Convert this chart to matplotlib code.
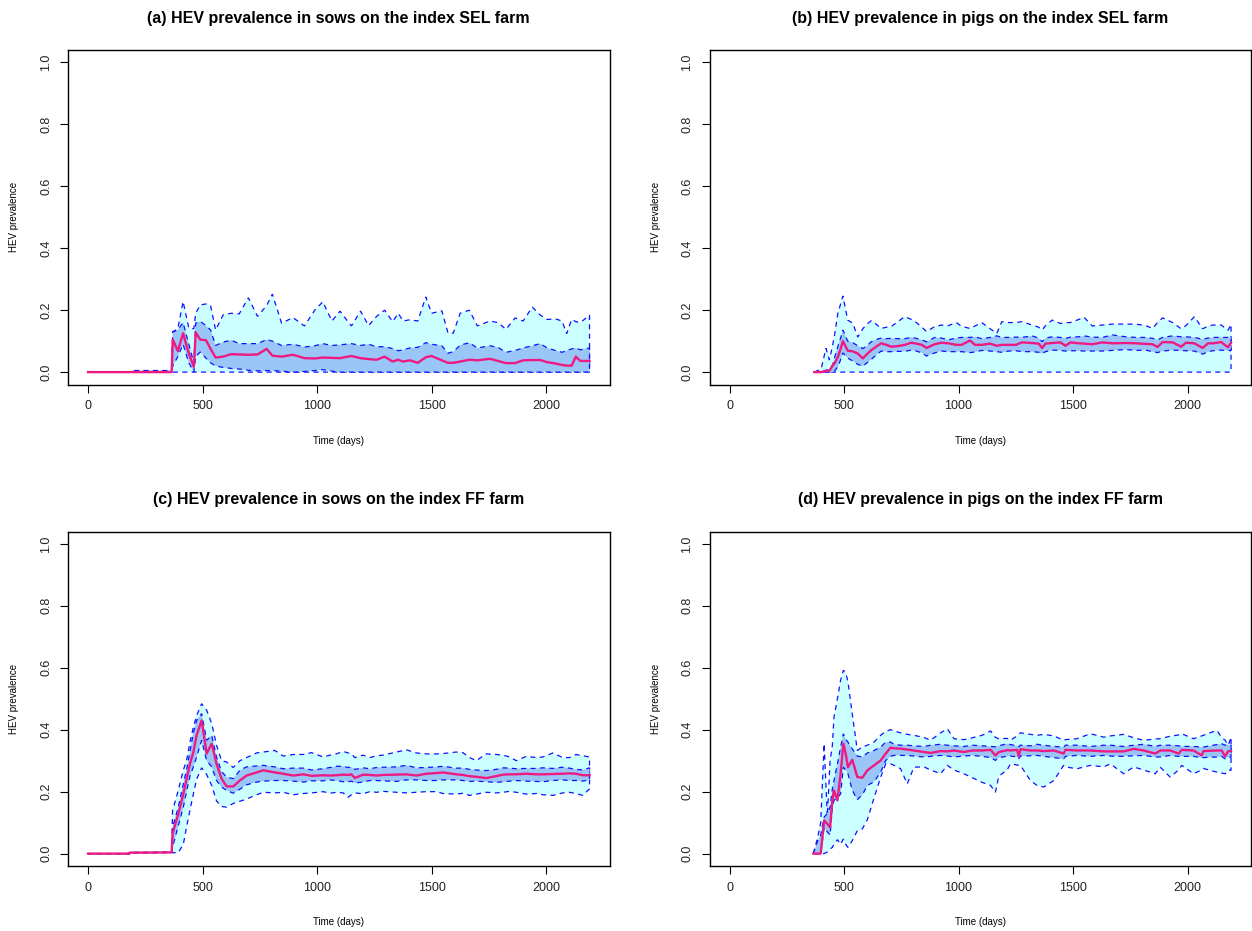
import matplotlib
matplotlib.use("Agg")
import matplotlib.pyplot as plt

plt.rcParams['font.family'] = ['Liberation Sans', 'DejaVu Sans']

# ---- simulated HEV prevalence: 2.5%, 25%, 50%, 75%, 97.5% quantiles ----
# (a) sows, SEL farm
a_days = [0, 185, 190, 365,
          370, 392, 415, 440, 462, 470, 490, 515, 535, 557,
          590, 625, 660, 700, 740, 780, 805, 845, 895, 945,
          990, 1025, 1065, 1100, 1150, 1190, 1225, 1260, 1295, 1330,
          1355, 1375, 1405, 1440, 1475, 1500, 1545, 1572, 1595, 1625,
          1665, 1700, 1755, 1790, 1825, 1865, 1900, 1940, 1975, 2005,
          2040, 2070, 2090, 2112, 2130, 2150, 2190]
a_med = [0, 0, 0, 0,
         0.105, 0.068, 0.125, 0.06, 0.017, 0.128, 0.105, 0.103, 0.075, 0.047,
         0.05, 0.058, 0.057, 0.056, 0.057, 0.075, 0.053, 0.05, 0.056, 0.045,
         0.044, 0.047, 0.046, 0.045, 0.052, 0.045, 0.042, 0.04, 0.05, 0.034,
         0.04, 0.034, 0.038, 0.03, 0.048, 0.052, 0.038, 0.03, 0.03, 0.034,
         0.04, 0.038, 0.043, 0.036, 0.029, 0.029, 0.038, 0.039, 0.039, 0.032,
         0.028, 0.023, 0.021, 0.021, 0.05, 0.036, 0.036]
a_q75 = [0, 0, 0.005, 0.005,
         0.13, 0.136, 0.16, 0.09, 0.03, 0.158, 0.164, 0.15, 0.136, 0.086,
         0.097, 0.103, 0.092, 0.092, 0.092, 0.105, 0.1, 0.086, 0.09, 0.081,
         0.085, 0.092, 0.086, 0.088, 0.092, 0.086, 0.09, 0.082, 0.082, 0.076,
         0.069, 0.072, 0.078, 0.08, 0.095, 0.09, 0.085, 0.061, 0.066, 0.087,
         0.095, 0.078, 0.085, 0.08, 0.064, 0.07, 0.078, 0.085, 0.092, 0.078,
         0.07, 0.064, 0.07, 0.075, 0.078, 0.072, 0.078]
a_q25 = [0, 0, 0, 0,
         0.02, 0.05, 0.09, 0.03, 0.0, 0.05, 0.065, 0.045, 0.03, 0.02,
         0.015, 0.012, 0.01, 0.006, 0.004, 0.005, 0.005, 0.003, 0.0, 0.002,
         0.005, 0.008, 0.003, 0, 0, 0, 0, 0, 0, 0,
         0, 0, 0, 0, 0, 0, 0, 0, 0, 0,
         0, 0, 0, 0, 0, 0, 0, 0, 0, 0,
         0, 0, 0, 0, 0, 0, 0]
a_hi = [0, 0, 0.005, 0.005,
        0.13, 0.14, 0.228, 0.142, 0.14, 0.19, 0.217, 0.22, 0.215, 0.136,
        0.185, 0.19, 0.188, 0.24, 0.18, 0.215, 0.252, 0.158, 0.176, 0.149,
        0.2, 0.227, 0.165, 0.197, 0.149, 0.197, 0.15, 0.18, 0.2, 0.163,
        0.19, 0.165, 0.169, 0.165, 0.243, 0.19, 0.198, 0.126, 0.126, 0.19,
        0.2, 0.149, 0.165, 0.16, 0.138, 0.175, 0.165, 0.21, 0.184, 0.17,
        0.172, 0.165, 0.124, 0.17, 0.163, 0.16, 0.184]
a_lo = [0, 0, 0, 0,
        0, 0, 0, 0, 0, 0, 0, 0, 0, 0,
        0, 0, 0, 0, 0, 0, 0, 0, 0, 0,
        0, 0, 0, 0, 0, 0, 0, 0, 0, 0,
        0, 0, 0, 0, 0, 0, 0, 0, 0, 0,
        0, 0, 0, 0, 0, 0, 0, 0, 0, 0,
        0, 0, 0, 0, 0, 0, 0]

# (b) pigs, SEL farm
b_days = [370, 400, 421, 436, 451, 460, 473, 485, 495, 516,
          538, 560, 582, 600, 619, 640, 662, 685, 706, 735,
          765, 794, 816, 840, 860, 896, 925, 955, 990, 1013,
          1050, 1072, 1101, 1138, 1167, 1189, 1220, 1250, 1277, 1321,
          1350, 1365, 1380, 1409, 1445, 1467, 1489, 1525, 1548, 1584,
          1628, 1672, 1730, 1774, 1818, 1847, 1869, 1891, 1935, 1972,
          1993, 2030, 2066, 2089, 2111, 2147, 2177, 2190]
b_med = [0.0, 0.0, 0.004, 0.004, 0.022, 0.03, 0.049, 0.075, 0.1, 0.069,
         0.067, 0.06, 0.044, 0.058, 0.071, 0.082, 0.093, 0.088, 0.082, 0.084,
         0.088, 0.095, 0.092, 0.088, 0.078, 0.09, 0.095, 0.093, 0.088, 0.088,
         0.102, 0.088, 0.088, 0.092, 0.085, 0.088, 0.088, 0.088, 0.096, 0.094,
         0.092, 0.078, 0.092, 0.094, 0.096, 0.085, 0.096, 0.093, 0.092, 0.09,
         0.096, 0.093, 0.094, 0.093, 0.091, 0.09, 0.081, 0.097, 0.096, 0.082,
         0.095, 0.093, 0.078, 0.093, 0.093, 0.097, 0.08, 0.095]
b_q75 = [0.0, 0.003, 0.006, 0.008, 0.025, 0.05, 0.083, 0.11, 0.136, 0.1,
         0.095, 0.085, 0.076, 0.085, 0.098, 0.105, 0.11, 0.108, 0.109, 0.108,
         0.108, 0.112, 0.109, 0.104, 0.098, 0.112, 0.11, 0.104, 0.11, 0.112,
         0.112, 0.114, 0.108, 0.112, 0.117, 0.112, 0.112, 0.113, 0.112, 0.117,
         0.11, 0.098, 0.11, 0.114, 0.112, 0.109, 0.113, 0.114, 0.117, 0.113,
         0.112, 0.12, 0.114, 0.112, 0.112, 0.109, 0.104, 0.112, 0.117, 0.114,
         0.114, 0.112, 0.106, 0.11, 0.112, 0.112, 0.112, 0.112]
b_q25 = [0.0, 0.0, 0.0, 0.0, 0.0, 0.005, 0.017, 0.04, 0.062, 0.045,
         0.036, 0.025, 0.019, 0.03, 0.041, 0.055, 0.068, 0.066, 0.066, 0.067,
         0.067, 0.071, 0.068, 0.062, 0.052, 0.062, 0.068, 0.066, 0.066, 0.066,
         0.063, 0.065, 0.07, 0.068, 0.066, 0.064, 0.068, 0.069, 0.066, 0.066,
         0.064, 0.06, 0.066, 0.071, 0.07, 0.068, 0.069, 0.069, 0.068, 0.068,
         0.068, 0.07, 0.073, 0.07, 0.071, 0.066, 0.063, 0.068, 0.071, 0.07,
         0.069, 0.068, 0.058, 0.066, 0.069, 0.071, 0.07, 0.069]
b_hi = [0.0, 0.01, 0.077, 0.039, 0.09, 0.126, 0.19, 0.22, 0.246, 0.168,
        0.158, 0.113, 0.14, 0.155, 0.166, 0.155, 0.141, 0.145, 0.147, 0.163,
        0.179, 0.17, 0.16, 0.145, 0.131, 0.147, 0.152, 0.15, 0.16, 0.148,
        0.141, 0.149, 0.16, 0.14, 0.125, 0.163, 0.16, 0.16, 0.163, 0.152,
        0.145, 0.136, 0.15, 0.168, 0.157, 0.16, 0.16, 0.17, 0.177, 0.149,
        0.152, 0.155, 0.155, 0.155, 0.15, 0.141, 0.16, 0.175, 0.16, 0.14,
        0.15, 0.179, 0.14, 0.148, 0.152, 0.152, 0.135, 0.154]
b_lo = [0, 0, 0, 0, 0, 0, 0, 0, 0, 0,
        0, 0, 0, 0, 0, 0, 0, 0, 0, 0,
        0, 0, 0, 0, 0, 0, 0, 0, 0, 0,
        0, 0, 0, 0, 0, 0, 0, 0, 0, 0,
        0, 0, 0, 0, 0, 0, 0, 0, 0, 0,
        0, 0, 0, 0, 0, 0, 0, 0, 0, 0,
        0, 0, 0, 0, 0, 0, 0, 0]

# (c) sows, FF farm
c_days = [0, 180, 182, 365, 369, 394, 416, 430, 445, 460,
          474, 496, 518, 540, 561, 583, 605, 634, 663, 692,
          736, 765, 816, 852, 896, 940, 976, 1027, 1056, 1085,
          1114, 1136, 1150, 1165, 1201, 1230, 1260, 1289, 1347, 1390,
          1434, 1477, 1521, 1550, 1608, 1637, 1666, 1695, 1739, 1782,
          1812, 1841, 1870, 1914, 1957, 1986, 2030, 2073, 2102, 2131,
          2160, 2190]
c_med = [0, 0, 0.003, 0.004, 0.064, 0.128, 0.193, 0.24, 0.29, 0.328,
         0.382, 0.43, 0.323, 0.355, 0.29, 0.242, 0.217, 0.217, 0.236, 0.252,
         0.262, 0.269, 0.262, 0.258, 0.252, 0.256, 0.251, 0.253, 0.252, 0.253,
         0.255, 0.254, 0.256, 0.244, 0.255, 0.254, 0.252, 0.254, 0.255, 0.256,
         0.252, 0.258, 0.26, 0.262, 0.256, 0.254, 0.25, 0.248, 0.244, 0.25,
         0.255, 0.256, 0.256, 0.258, 0.256, 0.256, 0.257, 0.258, 0.259, 0.258,
         0.253, 0.253]
c_q75 = [0, 0, 0.003, 0.004, 0.085, 0.15, 0.225, 0.27, 0.33, 0.39,
         0.43, 0.452, 0.366, 0.382, 0.312, 0.265, 0.247, 0.242, 0.269, 0.28,
         0.283, 0.285, 0.28, 0.274, 0.276, 0.276, 0.27, 0.274, 0.278, 0.282,
         0.282, 0.278, 0.279, 0.272, 0.277, 0.274, 0.278, 0.279, 0.28, 0.285,
         0.277, 0.278, 0.28, 0.282, 0.276, 0.276, 0.272, 0.27, 0.268, 0.272,
         0.277, 0.276, 0.274, 0.275, 0.275, 0.277, 0.275, 0.279, 0.276, 0.272,
         0.27, 0.277]
c_q25 = [0, 0, 0.003, 0.004, 0.02, 0.09, 0.15, 0.2, 0.25, 0.28,
         0.312, 0.366, 0.3, 0.28, 0.236, 0.215, 0.204, 0.195, 0.208, 0.222,
         0.231, 0.234, 0.236, 0.236, 0.234, 0.231, 0.235, 0.235, 0.238, 0.236,
         0.232, 0.232, 0.234, 0.228, 0.231, 0.236, 0.236, 0.235, 0.233, 0.238,
         0.238, 0.236, 0.236, 0.238, 0.238, 0.236, 0.233, 0.234, 0.232, 0.23,
         0.232, 0.234, 0.236, 0.234, 0.233, 0.232, 0.236, 0.238, 0.236, 0.236,
         0.234, 0.238]
c_hi = [0, 0, 0.004, 0.005, 0.139, 0.204, 0.27, 0.3, 0.36, 0.409,
        0.445, 0.484, 0.463, 0.42, 0.35, 0.3, 0.296, 0.278, 0.3, 0.31,
        0.325, 0.328, 0.333, 0.315, 0.32, 0.32, 0.326, 0.312, 0.318, 0.322,
        0.33, 0.325, 0.322, 0.31, 0.318, 0.31, 0.316, 0.318, 0.328, 0.335,
        0.325, 0.322, 0.322, 0.323, 0.328, 0.326, 0.31, 0.3, 0.322, 0.32,
        0.318, 0.312, 0.3, 0.314, 0.31, 0.312, 0.325, 0.31, 0.31, 0.32,
        0.316, 0.312]
c_lo = [0, 0, 0.002, 0.003, 0.003, 0.003, 0.03, 0.085, 0.14, 0.193,
        0.24, 0.277, 0.255, 0.22, 0.17, 0.152, 0.15, 0.162, 0.169, 0.176,
        0.19, 0.198, 0.196, 0.198, 0.19, 0.194, 0.196, 0.2, 0.195, 0.198,
        0.196, 0.182, 0.19, 0.196, 0.193, 0.2, 0.198, 0.201, 0.198, 0.196,
        0.198, 0.2, 0.2, 0.194, 0.192, 0.195, 0.188, 0.192, 0.198, 0.196,
        0.198, 0.201, 0.198, 0.192, 0.194, 0.19, 0.188, 0.196, 0.198, 0.194,
        0.188, 0.209]

# (d) pigs, FF farm
d_days = [366, 384, 398, 413, 427, 439, 449, 456, 471, 485,
          497, 507, 517, 536, 558, 580, 602, 631, 660, 682,
          703, 718, 747, 776, 805, 849, 878, 922, 951, 980,
          1023, 1060, 1103, 1140, 1161, 1176, 1212, 1227, 1256, 1263,
          1270, 1314, 1343, 1372, 1416, 1459, 1467, 1517, 1576, 1634,
          1663, 1721, 1765, 1808, 1859, 1881, 1924, 1961, 1975, 2026,
          2062, 2069, 2128, 2149, 2164, 2178, 2190]
d_med = [0.0, 0.0, 0.0, 0.107, 0.096, 0.085, 0.172, 0.204, 0.172, 0.258,
         0.355, 0.323, 0.279, 0.303, 0.247, 0.245, 0.269, 0.285, 0.301, 0.323,
         0.342, 0.34, 0.339, 0.336, 0.333, 0.328, 0.325, 0.331, 0.33, 0.333,
         0.328, 0.333, 0.333, 0.335, 0.317, 0.328, 0.334, 0.333, 0.335, 0.314,
         0.337, 0.333, 0.333, 0.331, 0.333, 0.323, 0.335, 0.333, 0.333, 0.33,
         0.33, 0.33, 0.338, 0.333, 0.323, 0.333, 0.333, 0.323, 0.335, 0.333,
         0.317, 0.331, 0.333, 0.333, 0.314, 0.331, 0.331]
d_q75 = [0.0, 0.04, 0.06, 0.118, 0.13, 0.15, 0.21, 0.236, 0.29, 0.344,
         0.387, 0.37, 0.36, 0.338, 0.315, 0.312, 0.325, 0.333, 0.344, 0.36,
         0.36, 0.353, 0.35, 0.35, 0.348, 0.346, 0.35, 0.353, 0.35, 0.348,
         0.346, 0.35, 0.348, 0.346, 0.345, 0.348, 0.355, 0.352, 0.348, 0.345,
         0.35, 0.348, 0.353, 0.35, 0.346, 0.344, 0.35, 0.35, 0.346, 0.35,
         0.35, 0.346, 0.35, 0.353, 0.346, 0.35, 0.35, 0.348, 0.346, 0.346,
         0.344, 0.344, 0.352, 0.355, 0.35, 0.352, 0.35]
d_q25 = [0.0, 0.0, 0.0, 0.085, 0.07, 0.06, 0.15, 0.172, 0.18, 0.193,
         0.279, 0.27, 0.258, 0.204, 0.174, 0.19, 0.22, 0.232, 0.263, 0.301,
         0.314, 0.317, 0.317, 0.317, 0.315, 0.312, 0.314, 0.317, 0.315, 0.312,
         0.315, 0.317, 0.314, 0.31, 0.301, 0.31, 0.314, 0.315, 0.312, 0.306,
         0.315, 0.316, 0.317, 0.314, 0.31, 0.306, 0.314, 0.317, 0.314, 0.317,
         0.315, 0.314, 0.316, 0.317, 0.312, 0.312, 0.317, 0.314, 0.314, 0.314,
         0.31, 0.31, 0.312, 0.314, 0.306, 0.312, 0.311]
d_hi = [0.0, 0.05, 0.1, 0.355, 0.12, 0.3, 0.35, 0.441, 0.5, 0.56,
        0.592, 0.585, 0.555, 0.45, 0.333, 0.344, 0.35, 0.36, 0.382, 0.395,
        0.4, 0.396, 0.39, 0.385, 0.382, 0.375, 0.366, 0.39, 0.403, 0.371,
        0.368, 0.374, 0.382, 0.396, 0.375, 0.371, 0.372, 0.366, 0.38, 0.385,
        0.39, 0.385, 0.382, 0.385, 0.38, 0.366, 0.368, 0.371, 0.387, 0.376,
        0.38, 0.385, 0.374, 0.366, 0.37, 0.371, 0.379, 0.383, 0.387, 0.371,
        0.38, 0.382, 0.398, 0.375, 0.366, 0.35, 0.376]
d_lo = [0.0, 0.0, 0.0, 0.0, 0.005, 0.015, 0.02, 0.03, 0.045, 0.03,
        0.047, 0.03, 0.02, 0.042, 0.074, 0.08, 0.11, 0.18, 0.247, 0.29,
        0.29, 0.285, 0.274, 0.225, 0.279, 0.28, 0.27, 0.258, 0.285, 0.27,
        0.258, 0.245, 0.23, 0.22, 0.198, 0.25, 0.27, 0.29, 0.286, 0.285,
        0.285, 0.236, 0.22, 0.215, 0.236, 0.285, 0.28, 0.274, 0.285, 0.28,
        0.29, 0.258, 0.28, 0.27, 0.258, 0.279, 0.247, 0.27, 0.285, 0.258,
        0.27, 0.275, 0.263, 0.26, 0.258, 0.27, 0.269]

TITLES = [
    '(a) HEV prevalence in sows on the index SEL farm',
    '(b) HEV prevalence in pigs on the index SEL farm',
    '(c) HEV prevalence in sows on the index FF farm',
    '(d) HEV prevalence in pigs on the index FF farm',
]
X_TICKS = [0, 500, 1000, 1500, 2000]
Y_TICKS = [0.0, 0.2, 0.4, 0.6, 0.8, 1.0]

OUTER_FILL = '#ccffff'
INNER_FILL = '#9ac6f7'
EDGE = '#1010ff'
MEDIAN_COL = '#ee1a82'


def band(ax, days, low, high, face):
    """Filled quantile band with dashed outline (closed polygon)."""
    xs = list(days) + list(days)[::-1]
    ys = list(high) + list(low)[::-1]
    ax.fill(xs, ys, facecolor=face, edgecolor=EDGE, linewidth=0.9,
            linestyle=(0, (4, 3.5)), zorder=2)


def draw_panel(ax, days, lo, q25, med, q75, hi, title):
    band(ax, days, lo, hi, OUTER_FILL)
    band(ax, days, q25, q75, INNER_FILL)
    ax.plot(days, med, color=MEDIAN_COL, lw=1.7, zorder=4,
            solid_joinstyle='round')

    ax.set_xlim(-87.6, 2277.6)
    ax.set_ylim(-0.04, 1.04)
    ax.set_xticks(X_TICKS)
    ax.set_yticks(Y_TICKS)
    ax.set_xticklabels([str(v) for v in X_TICKS])
    ax.set_yticklabels(['%.1f' % v for v in Y_TICKS], rotation=90, va='center')
    ax.tick_params(direction='out', length=5.5, width=0.8, pad=6,
                   labelsize=9, colors='black', labelcolor='#222222')
    for s in ax.spines.values():
        s.set_linewidth(1.0)
        s.set_color('black')

    ax.text(0.5, 1 + 32 / 334.5, title, transform=ax.transAxes,
            ha='center', va='center', fontsize=11.5, fontweight='bold')
    ax.text(0.5, -56 / 334.5, 'Time (days)', transform=ax.transAxes,
            ha='center', va='center', fontsize=7)
    ax.text(-54 / 541.6, 0.5, 'HEV prevalence', transform=ax.transAxes,
            ha='center', va='center', rotation=90, fontsize=7)


fig = plt.figure(figsize=(12.52, 9.31), dpi=100)
W, H = 1252.0, 931.0
boxes = [
    (68, 50), (709.5, 50),
    (68, 531.5), (709.5, 531.5),
]
panels = [
    (a_days, a_lo, a_q25, a_med, a_q75, a_hi),
    (b_days, b_lo, b_q25, b_med, b_q75, b_hi),
    (c_days, c_lo, c_q25, c_med, c_q75, c_hi),
    (d_days, d_lo, d_q25, d_med, d_q75, d_hi),
]
for (left, top), data, title in zip(boxes, panels, TITLES):
    ax = fig.add_axes([left / W, 1 - (top + 334.5) / H, 541.6 / W, 334.5 / H])
    draw_panel(ax, *data, title)

fig.savefig('out.png', dpi=100)
